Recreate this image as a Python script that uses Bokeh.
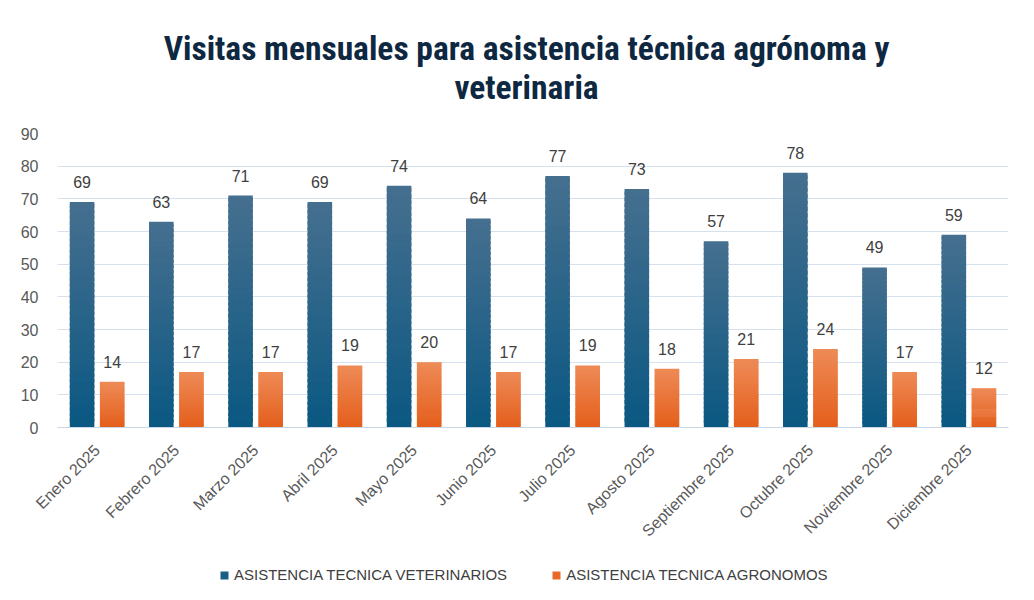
import math
from bokeh.plotting import figure
from bokeh.layouts import column
from bokeh.models import (ColumnDataSource, FixedTicker, LabelSet, Legend, LegendItem,
                          Label, Range1d)
from bokeh.core.properties import value
from bokeh.embed import file_html
from bokeh.resources import INLINE

months = ["Enero 2025", "Febrero 2025", "Marzo 2025", "Abril 2025", "Mayo 2025",
          "Junio 2025", "Julio 2025", "Agosto 2025", "Septiembre 2025",
          "Octubre 2025", "Noviembre 2025", "Diciembre 2025"]
veterinarios = [69, 63, 71, 69, 74, 64, 77, 73, 57, 78, 49, 59]
agronomos = [14, 17, 17, 19, 20, 17, 19, 18, 21, 24, 17, 12]
series_names = ["ASISTENCIA TECNICA VETERINARIOS", "ASISTENCIA TECNICA AGRONOMOS"]
y_ticks = [0, 10, 20, 30, 40, 50, 60, 70, 80, 90]
title_lines = ["Visitas mensuales para asistencia técnica agrónoma y", "veterinaria"]

BLUE_BOTTOM, BLUE_TOP = "#0b5882", "#456f8f"
ORANGE_BOTTOM, ORANGE_TOP = "#e45f1c", "#ee8a56"
TEXT = "#595959"
GRID = "#d5e1ee"
TITLE_FONT = "Roboto Condensed"
W = 1026
TOP_H = 123


def hex_to_rgb(h):
    h = h.lstrip("#")
    return tuple(int(h[i:i + 2], 16) for i in (0, 2, 4))


def lerp(c1, c2, t):
    a, b = hex_to_rgb(c1), hex_to_rgb(c2)
    return "#%02x%02x%02x" % tuple(round(a[i] + (b[i] - a[i]) * t) for i in range(3))


def gradient_source(xs, vals, c_bottom, c_top, n=40):
    x, bot, top, col = [], [], [], []
    for xi, v in zip(xs, vals):
        for k in range(n):
            x.append(xi)
            bot.append(v * k / n)
            top.append(v * min(k + 1.6, n) / n)
            col.append(lerp(c_bottom, c_top, k / (n - 1)))
    return ColumnDataSource(dict(x=x, bottom=bot, top=top, color=col))


def blank_strip(h):
    f = figure(width=W, height=h, x_range=Range1d(0, W), y_range=Range1d(0, h),
               output_backend="svg", toolbar_location=None,
               min_border_left=0, min_border_right=0, min_border_top=0, min_border_bottom=0)
    f.axis.visible = False
    f.grid.visible = False
    f.outline_line_color = None
    f.title = None
    return f


# ---- title strip
ts = blank_strip(TOP_H)
for txt, yy in zip(title_lines, (TOP_H - 48, TOP_H - 87)):
    ts.add_layout(Label(x=506, y=yy, text=txt, text_align="center", text_baseline="middle",
                        text_font_size="33.5px", text_font=TITLE_FONT,
                        text_font_style="bold", text_color="#0e2841"))

# ---- main chart
centers = [i + 0.5 for i in range(len(months))]
off = 0.19
bw = 0.31
x_vet = [c - off for c in centers]
x_agr = [c + off for c in centers]

p = figure(width=W, height=548 - TOP_H, x_range=Range1d(0, len(months)),
           y_range=Range1d(0, 90), output_backend="svg", toolbar_location=None,
           min_border_left=57, min_border_right=W - 1008, min_border_top=133 - TOP_H,
           min_border_bottom=120)
p.title = None
p.outline_line_color = None
p.background_fill_color = "white"
p.border_fill_color = "white"

src_v = gradient_source(x_vet, veterinarios, BLUE_BOTTOM, BLUE_TOP)
src_a = gradient_source(x_agr, agronomos, ORANGE_BOTTOM, ORANGE_TOP)
p.vbar(x="x", bottom="bottom", top="top", width=bw, source=src_v,
       fill_color="color", line_color=None)
p.vbar(x="x", bottom="bottom", top="top", width=bw, source=src_a,
       fill_color="color", line_color=None)

lab_v = ColumnDataSource(dict(x=x_vet, y=veterinarios, t=[str(v) for v in veterinarios]))
lab_a = ColumnDataSource(dict(x=x_agr, y=agronomos, t=[str(v) for v in agronomos]))
for s in (lab_v, lab_a):
    p.add_layout(LabelSet(x="x", y="y", text="t", source=s, y_offset=14,
                          text_align="center", text_baseline="alphabetic",
                          text_font_size="16px", text_color="#404040",
                          text_font=value("Liberation Sans")))

p.xaxis.ticker = FixedTicker(ticks=centers)
p.xaxis.major_label_overrides = {c: m for c, m in zip(centers, months)}
p.xaxis.major_label_orientation = math.pi / 4
p.xaxis.major_label_text_font_size = "16px"
p.xaxis.major_label_text_color = TEXT
p.xaxis.major_label_text_font = "Liberation Sans"
p.xaxis.axis_line_color = "#c8d6e6"
p.xaxis.major_tick_line_color = None
p.xaxis.minor_tick_line_color = None
p.xaxis.major_label_standoff = 14

p.yaxis.ticker = FixedTicker(ticks=y_ticks)
p.yaxis.major_label_text_font_size = "16px"
p.yaxis.major_label_text_color = TEXT
p.yaxis.major_label_text_font = "Liberation Sans"
p.yaxis.axis_line_color = None
p.yaxis.major_tick_line_color = None
p.yaxis.minor_tick_line_color = None
p.yaxis.major_label_standoff = 13

p.xgrid.grid_line_color = None
p.ygrid.grid_line_color = GRID
p.ygrid.grid_line_width = 1

# ---- legend strip
lg = blank_strip(44)
sw = ColumnDataSource(dict(x=[-50], top=[0]))
r_lv = lg.vbar(x="x", top="top", width=1, source=sw, fill_color="#1a5f85", line_color=None)
r_la = lg.vbar(x="x", top="top", width=1, source=sw, fill_color="#e8692a", line_color=None)
legend = Legend(items=[LegendItem(label=series_names[0], renderers=[r_lv]),
                       LegendItem(label=series_names[1], renderers=[r_la])],
                orientation="horizontal", location=(162, 9),
                label_text_font_size="15px", label_text_color="#404040",
                label_text_font="Liberation Sans", glyph_width=10, glyph_height=10,
                label_standoff=5, spacing=44, border_line_color=None,
                background_fill_alpha=0, padding=0, margin=0, label_height=17)
lg.add_layout(legend, "center")

layout = column(ts, p, lg, spacing=0)
open("out.html", "w").write(file_html(layout, INLINE))
